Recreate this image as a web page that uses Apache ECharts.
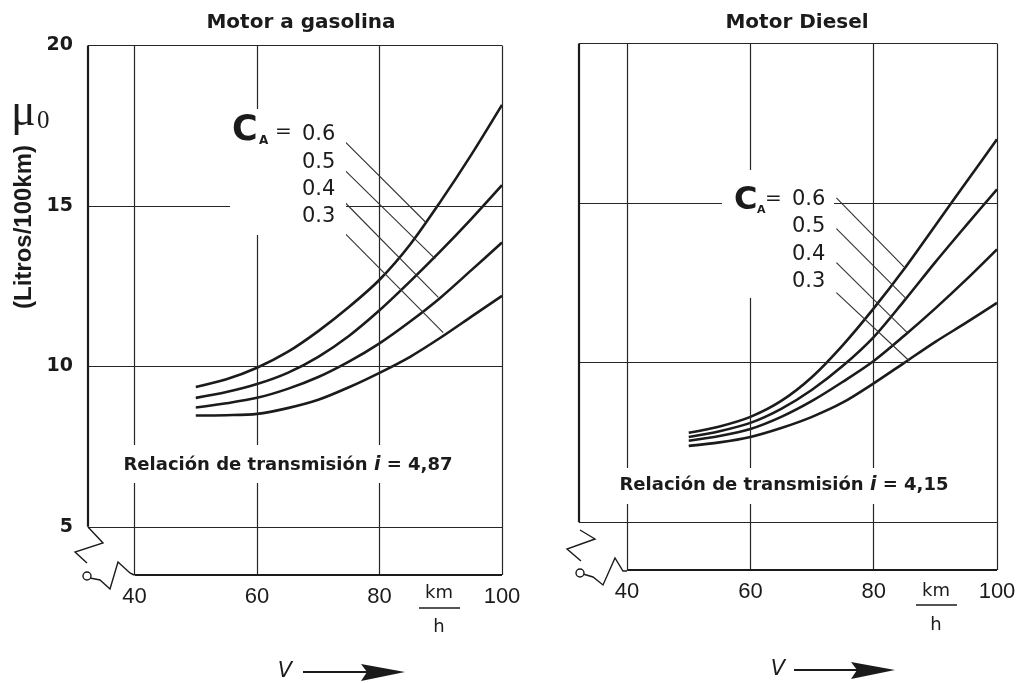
<!DOCTYPE html>
<html><head><meta charset="utf-8">
<script src="https://cdn.jsdelivr.net/npm/echarts@6/dist/echarts.min.js"></script>
<style>html,body{margin:0;padding:0;background:#fff}#c{width:1024px;height:684px}</style>
</head><body><div id="c"></div>
<script>
// ---------- data ----------
const speeds = [50, 55, 60, 65, 70, 75, 80, 85, 90, 95, 100];
const caLabels = ['0.6', '0.5', '0.4', '0.3'];
const xTicks = [40, 60, 80, 100];
const yTicks = [5, 10, 15, 20];
const panelTitles = ['Motor a gasolina', 'Motor Diesel'];
const ratioValues = ['4,87', '4,15'];

const gasolina06 = [9.36, 9.6, 9.96, 10.45, 11.1, 11.85, 12.7, 13.8, 15.15, 16.6, 18.15];
const gasolina05 = [9.02, 9.2, 9.45, 9.8, 10.3, 10.95, 11.75, 12.65, 13.6, 14.6, 15.65];
const gasolina04 = [8.72, 8.85, 9.02, 9.3, 9.67, 10.15, 10.72, 11.4, 12.15, 13.0, 13.86];
const gasolina03 = [8.47, 8.48, 8.52, 8.7, 8.96, 9.35, 9.8, 10.3, 10.9, 11.55, 12.2];

const diesel06 = [7.8, 8.0, 8.3, 8.8, 9.55, 10.55, 11.7, 12.95, 14.3, 15.65, 17.0];
const diesel05 = [7.67, 7.85, 8.11, 8.55, 9.15, 9.9, 10.8, 11.95, 13.15, 14.3, 15.43];
const diesel04 = [7.55, 7.7, 7.92, 8.3, 8.8, 9.4, 10.05, 10.85, 11.7, 12.6, 13.55];
const diesel03 = [7.39, 7.5, 7.67, 7.95, 8.3, 8.75, 9.35, 10.0, 10.65, 11.25, 11.87];

// leader lines (label -> curve), in data units
const gasLeaderStart = [[74.4, 17.0], [74.4, 16.1], [74.4, 15.1], [74.4, 14.14]];
const gasLeaderEnd = [[87.5, 14.5], [89.1, 13.35], [89.6, 12.15], [90.4, 11.05]];
const dieselLeaderStart = [[73.95, 15.16], [73.95, 14.2], [73.95, 13.13], [73.95, 12.19]];
const dieselLeaderEnd = [[84.9, 13.0], [85.3, 12.0], [85.4, 10.95], [85.8, 10.05]];

// ---------- chart ----------
const FONT = "'DejaVu Sans', 'Liberation Sans', Arial, sans-serif";
const INK = '#1b1b1b';
const chart = echarts.init(document.getElementById('c'), null, {renderer: 'canvas'});

const panels = [
  {xMin: 32.4, yMin: 3.5, yMax: 20, curves: [gasolina06, gasolina05, gasolina04, gasolina03],
   ls: gasLeaderStart, le: gasLeaderEnd},
  {xMin: 32.2, yMin: 3.5, yMax: 20, curves: [diesel06, diesel05, diesel04, diesel03],
   ls: dieselLeaderStart, le: dieselLeaderEnd}
];

function frameLines(p) {
  const out = [];
  const heavy = {width: 2.2, color: INK, type: 'solid'};
  const thin = {width: 1.2, color: '#262626', type: 'solid'};
  xTicks.slice(0, 3).forEach(x => out.push([{coord: [x, p.yMin], lineStyle: thin}, {coord: [x, p.yMax]}]));
  yTicks.slice(0, 3).forEach(y => out.push([{coord: [p.xMin, y], lineStyle: thin}, {coord: [100, y]}]));
  out.push([{coord: [p.xMin, p.yMax], lineStyle: thin}, {coord: [100, p.yMax]}]);
  out.push([{coord: [100, p.yMin], lineStyle: thin}, {coord: [100, p.yMax]}]);
  out.push([{coord: [p.xMin, yTicks[0]], lineStyle: heavy}, {coord: [p.xMin, p.yMax]}]);
  out.push([{coord: [xTicks[0], p.yMin], lineStyle: heavy}, {coord: [100, p.yMin]}]);
  return out;
}

const series = [];
panels.forEach((p, gi) => {
  series.push({
    type: 'line', xAxisIndex: gi, yAxisIndex: gi, data: [], silent: true, z: 1,
    markLine: {silent: true, symbol: 'none', label: {show: false}, animation: false,
      lineStyle: {type: 'solid'}, emphasis: {disabled: true}, data: frameLines(p)}
  });
  p.curves.forEach((vals, ci) => {
    series.push({
      type: 'line', name: caLabels[ci], xAxisIndex: gi, yAxisIndex: gi, z: 3,
      smooth: 0.3, showSymbol: false, silent: true,
      lineStyle: {width: 2.6, color: INK},
      data: speeds.map((s, i) => [s, vals[i]]),
      markLine: {silent: true, symbol: ['none', 'arrow'], symbolSize: [0, 7], animation: false,
        label: {show: false}, emphasis: {disabled: true},
        lineStyle: {width: 1.1, color: '#333', type: 'solid'},
        data: [[{coord: p.ls[ci]}, {coord: p.le[ci]}]]}
    });
  });
});

const grids = [
  {left: 88, top: 45.5, width: 414, height: 529.5},
  {left: 579, top: 43.5, width: 418, height: 526.5}
];

const xAxes = panels.map((p, i) => ({
  type: 'value', gridIndex: i, min: p.xMin, max: 100,
  axisLine: {show: false}, axisTick: {show: false}, splitLine: {show: false},
  axisLabel: {customValues: xTicks, fontSize: 22, color: INK, fontFamily: "'Liberation Sans', Arial, sans-serif", margin: 11}
}));
const yAxes = panels.map((p, i) => ({
  type: 'value', gridIndex: i, min: p.yMin, max: p.yMax,
  axisLine: {show: false}, axisTick: {show: false}, splitLine: {show: false},
  axisLabel: {show: i === 0, customValues: yTicks, fontSize: 19, fontWeight: 'bold', color: INK, fontFamily: FONT, margin: 15}
}));

function txt(x, y, text, size, opts) {
  return Object.assign({type: 'text', x: x, y: y, z: 60,
    style: Object.assign({text: text, font: (opts && opts.font) || ('bold ' + size + 'px ' + FONT),
      fill: INK, align: 'left', verticalAlign: 'middle'}, (opts && opts.style) || {})}, (opts && opts.el) || {});
}
function rect(x, y, w, h) {
  return {type: 'rect', z: 50, shape: {x: x, y: y, width: w, height: h}, style: {fill: '#fff'}};
}

const graphics = [];
graphics.push(rect(230, 109, 116, 126), rect(722, 170, 112, 128));
graphics.push(rect(117, 445, 344, 38), rect(611, 468, 348, 36));

// titles
graphics.push(txt(301, 23, panelTitles[0], 20, {style: {align: 'center'}}));
graphics.push(txt(797, 23, panelTitles[1], 20, {style: {align: 'center'}}));

// y axis title
graphics.push(txt(11, 113, 'μ', 46, {font: '46px "Liberation Serif", "DejaVu Serif", serif'}));
graphics.push(txt(37, 121, '0', 25, {font: '25px "Liberation Serif", "DejaVu Serif", serif'}));
graphics.push(txt(24, 227, '(Litros/100km)', 24, {font: 'bold 24px "Liberation Sans", Arial, sans-serif', style: {align: 'center'}, el: {rotation: Math.PI / 2}}));

// CA labels
const caPos = [
  {cx: 232, cy: 131, cs: 35, ax: 259, ay: 141, as: 12, ex: 275, ey: 132, vx: 302, vy: [135, 163, 190, 217]},
  {cx: 734, cy: 201, cs: 32, ax: 757, ay: 210, as: 11, ex: 765, ey: 199, vx: 792, vy: [200, 227, 255, 282]}
];
caPos.forEach(c => {
  graphics.push(txt(c.cx, c.cy, 'C', c.cs));
  graphics.push(txt(c.ax, c.ay, 'A', c.as));
  graphics.push(txt(c.ex, c.ey, '=', 20, {font: '20px ' + FONT}));
  caLabels.forEach((l, i) => graphics.push(txt(c.vx, c.vy[i], l, 21, {font: '21px ' + FONT})));
});

// transmission ratio text
[[288, 465], [784, 485]].forEach((pos, i) => {
  graphics.push({type: 'text', x: pos[0], y: pos[1], z: 60, style: {
    text: '{b|Relación de transmisión }{i|i}{b| = ' + ratioValues[i] + '}',
    align: 'center', verticalAlign: 'middle',
    rich: {b: {font: 'bold 18px ' + FONT, fill: INK}, i: {font: 'italic bold 19px ' + FONT, fill: INK}}
  }});
});

// km/h fractions
[[439, 593, 608, 627], [936, 591, 605, 625]].forEach(f => {
  graphics.push(txt(f[0], f[1], 'km', 18, {font: '18px ' + FONT, style: {align: 'center'}}));
  graphics.push({type: 'line', z: 60, shape: {x1: f[0] - 20, y1: f[2], x2: f[0] + 21, y2: f[2]}, style: {stroke: INK, lineWidth: 1.5}});
  graphics.push(txt(f[0], f[3], 'h', 18, {font: '18px ' + FONT, style: {align: 'center'}}));
});

// V arrows
[[285, 672, 303, 405], [778, 670, 794, 895]].forEach(a => {
  graphics.push(txt(a[0], a[1], 'V', 21, {font: 'italic 21px ' + FONT, style: {align: 'center'}}));
  graphics.push({type: 'line', z: 60, shape: {x1: a[2], y1: a[1], x2: a[3] - 30, y2: a[1]}, style: {stroke: INK, lineWidth: 2.2}});
  graphics.push({type: 'polygon', z: 60, shape: {points: [[a[3] - 44, a[1] - 8], [a[3], a[1]], [a[3] - 44, a[1] + 9], [a[3] - 38, a[1]]]}, style: {fill: INK}});
});

// axis break zigzags
const zigzags = [
  {pts: [[88, 527], [103, 543], [75, 552], [87, 563]], pts2: [[90, 578], [100, 580], [110, 589], [118, 562], [130, 573], [134, 575]], c: [87, 576]},
  {pts: [[580, 530], [595, 539], [567, 549], [581, 561]], pts2: [[583, 574], [593, 577], [603, 585], [615, 558], [623, 571], [627, 571]], c: [580, 573]}
];
zigzags.forEach(z => {
  graphics.push({type: 'polyline', z: 60, shape: {points: z.pts}, style: {stroke: INK, lineWidth: 1.4, fill: null}});
  graphics.push({type: 'polyline', z: 60, shape: {points: z.pts2}, style: {stroke: INK, lineWidth: 1.4, fill: null}});
  graphics.push({type: 'circle', z: 60, shape: {cx: z.c[0], cy: z.c[1], r: 4}, style: {stroke: INK, lineWidth: 1.4, fill: '#fff'}});
});

chart.setOption({
  animation: false,
  backgroundColor: '#fff',
  grid: grids,
  xAxis: xAxes,
  yAxis: yAxes,
  series: series,
  graphic: {elements: graphics}
});
</script>
</body></html>
